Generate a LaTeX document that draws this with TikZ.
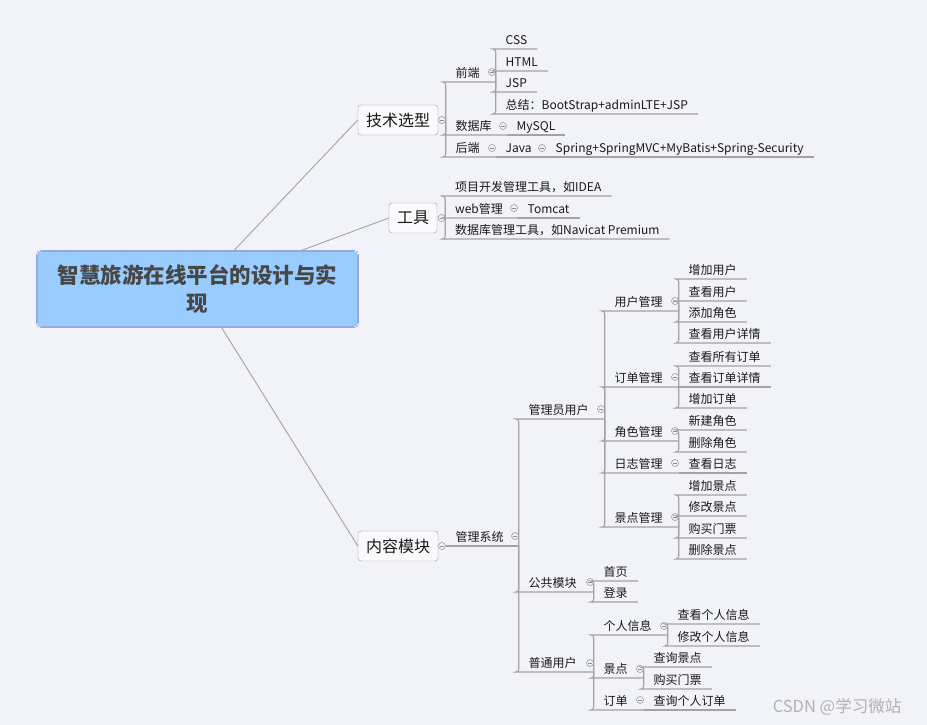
\documentclass[tikz,border=0pt]{standalone}
\usepackage{fontspec}
\setmainfont{Noto Sans CJK SC}
\usepackage{xcolor}
\usepackage{tikz}
\usetikzlibrary{positioning}

\definecolor{bg}{RGB}{242,243,248}
\definecolor{linegray}{RGB}{163,163,163}
\definecolor{rootfill}{RGB}{153,204,255}
\definecolor{rootline}{RGB}{92,124,200}
\definecolor{ink}{RGB}{25,25,25}

\begin{document}
\begin{tikzpicture}[
  x=1pt, y=-1pt,
  rootbox/.style={draw=rootline, double=white, double distance=0.8pt, rounded corners=4pt, fill=rootfill, align=center, minimum width=321pt, minimum height=76pt, font=\fontsize{21.5}{28}\selectfont\bfseries, text=black!72},
  topic/.style={draw=black!40, fill=white!60!bg, rounded corners=3pt, minimum height=30pt, inner xsep=8pt, font=\fontsize{16}{18}\selectfont, text=ink},
  item/.style={anchor=south west, inner xsep=10pt, inner ysep=0pt, minimum height=19pt, text height=11pt, text depth=1pt, font=\fontsize{12}{14}\selectfont, text=ink},
  dot/.style={circle, draw=black!45, fill=bg, inner sep=0pt, minimum size=7pt, line width=0.5pt,
    path picture={\draw[black!45, line width=0.5pt] ([xshift=-1.8pt]path picture bounding box.center) -- ([xshift=1.8pt]path picture bounding box.center);}},
  link/.style={draw=linegray, line width=0.9pt},
  ul/.style={draw=linegray, line width=1.1pt, rounded corners=3pt}
]
  \path[use as bounding box, fill=bg] (0,0) rectangle (927,725);

  % root and main topics
  \node[rootbox] (root) at (197.5,289) {智慧旅游在线平台的设计与实\\现};
  \node[topic] (tech) at (398,120) {技术选型};
  \node[topic] (tools) at (413,218) {工具};
  \node[topic] (cont) at (398,546) {内容模块};
  \node[dot] (tech-c) at (442,120) {};
  \node[dot] (tools-c) at (441.5,218) {};
  \node[dot] (cont-c) at (442,546) {};

  \draw[link] (root) -- (tech.west);
  \draw[link] (root) -- (tools.west);
  \draw[link] (root) -- (cont.west);

  % 技术选型
  \node[item] (fe) at (445.5,82) {前端};
  \node[dot] (fe-c) at (492,72) {};
  \node[item] (css) at (495.5,49) {CSS};
  \node[item] (html) at (495.5,71) {HTML};
  \node[item] (jsp) at (495.5,92) {JSP};
  \node[item] (sum) at (495.5,114) {总结：BootStrap+adminLTE+JSP};
  \node[item] (db) at (445.5,135) {数据库};
  \node[dot] (db-c) at (503,126) {};
  \node[item] (mysql) at (506.5,135) {MySQL};
  \node[item] (be) at (445.5,157) {后端};
  \node[dot] (be-c) at (492,148) {};
  \node[item] (java) at (495.5,157) {Java};
  \node[dot] (java-c) at (542,148) {};
  \node[item] (spring) at (545.5,157) {Spring+SpringMVC+MyBatis+Spring-Security};

  \draw[ul] (tech-c.east) |- (fe.south west) -- (fe-c.east |- fe.south);
  \draw[ul] (tech-c.east) |- (db.south west) -- (db-c.east |- db.south);
  \draw[ul] (tech-c.east) |- (be.south west) -- (be-c.east |- be.south);
  \draw[ul] (fe-c.east |- fe.south) |- (css.south west) -- (css.south east);
  \draw[ul] (fe-c.east |- fe.south) |- (html.south west) -- (html.south east);
  \draw[ul] (fe-c.east |- fe.south) |- (jsp.south west) -- (jsp.south east);
  \draw[ul] (fe-c.east |- fe.south) |- (sum.south west) -- (sum.south east);
  \draw[ul] (mysql.south west) -- (mysql.south east);
  \draw[ul] (java.south west) -- (java-c.east |- java.south);
  \draw[ul] (spring.south west) -- (spring.south east);

  % 工具
  \node[item] (ide) at (445,196) {项目开发管理工具，如IDEA};
  \node[item] (web) at (445,218) {web管理};
  \node[dot] (web-c) at (514,208) {};
  \node[item] (tomcat) at (517.5,218) {Tomcat};
  \node[item] (navi) at (445,239) {数据库管理工具，如Navicat Premium};

  \draw[ul] (tools-c.east) |- (ide.south west) -- (ide.south east);
  \draw[ul] (tools-c.east) |- (web.south west) -- (web-c.east |- web.south);
  \draw[ul] (tools-c.east) |- (navi.south west) -- (navi.south east);
  \draw[ul] (tomcat.south west) -- (tomcat.south east);

  % 内容模块
  \node[item] (sys) at (445.5,546) {管理系统};
  \node[dot] (sys-c) at (515,536) {};
  \draw[ul] (cont-c.east) -- (sys.south west) -- (sys-c.east |- sys.south);

  \node[item] (adm) at (518.5,419) {管理员用户};
  \node[dot] (adm-c) at (601,409) {};
  \node[item] (pub) at (518.5,592) {公共模块};
  \node[dot] (pub-c) at (590,582) {};
  \node[item] (usr) at (518.5,672) {普通用户};
  \node[dot] (usr-c) at (590,663) {};
  \draw[ul] (sys-c.east |- sys.south) |- (adm.south west) -- (adm-c.east |- adm.south);
  \draw[ul] (sys-c.east |- sys.south) |- (pub.south west) -- (pub-c.east |- pub.south);
  \draw[ul] (sys-c.east |- sys.south) |- (usr.south west) -- (usr-c.east |- usr.south);

  % 管理员用户
  \node[item] (um) at (604.5,311) {用户管理};
  \node[dot] (um-c) at (675,301) {};
  \node[item] (om) at (604.5,387) {订单管理};
  \node[dot] (om-c) at (675,377) {};
  \node[item] (rm) at (604.5,441) {角色管理};
  \node[dot] (rm-c) at (675,431) {};
  \node[item] (lm) at (604.5,473) {日志管理};
  \node[dot] (lm-c) at (675,463) {};
  \node[item] (sm) at (604.5,527) {景点管理};
  \node[dot] (sm-c) at (675,517) {};
  \draw[ul] (adm-c.east |- adm.south) |- (um.south west) -- (um-c.east |- um.south);
  \draw[ul] (adm-c.east |- adm.south) |- (om.south west) -- (om-c.east |- om.south);
  \draw[ul] (adm-c.east |- adm.south) |- (rm.south west) -- (rm-c.east |- rm.south);
  \draw[ul] (adm-c.east |- adm.south) |- (lm.south west) -- (lm-c.east |- lm.south);
  \draw[ul] (adm-c.east |- adm.south) |- (sm.south west) -- (sm-c.east |- sm.south);

  \node[item] (u1) at (678.5,279) {增加用户};
  \node[item] (u2) at (678.5,301) {查看用户};
  \node[item] (u3) at (678.5,322) {添加角色};
  \node[item] (u4) at (678.5,343) {查看用户详情};
  \draw[ul] (um-c.east |- um.south) |- (u1.south west) -- (u1.south east);
  \draw[ul] (um-c.east |- um.south) |- (u2.south west) -- (u2.south east);
  \draw[ul] (um-c.east |- um.south) |- (u3.south west) -- (u3.south east);
  \draw[ul] (um-c.east |- um.south) |- (u4.south west) -- (u4.south east);

  \node[item] (o1) at (678.5,366) {查看所有订单};
  \node[item] (o2) at (678.5,387) {查看订单详情};
  \node[item] (o3) at (678.5,408) {增加订单};
  \draw[ul] (om-c.east |- om.south) |- (o1.south west) -- (o1.south east);
  \draw[ul] (om-c.east |- om.south) -- (o2.south west) -- (o2.south east);
  \draw[ul] (om-c.east |- om.south) |- (o3.south west) -- (o3.south east);

  \node[item] (r1) at (678.5,430) {新建角色};
  \node[item] (r2) at (678.5,452) {删除角色};
  \draw[ul] (rm-c.east |- rm.south) |- (r1.south west) -- (r1.south east);
  \draw[ul] (rm-c.east |- rm.south) |- (r2.south west) -- (r2.south east);

  \node[item] (l1) at (678.5,473) {查看日志};
  \draw[ul] (l1.south west) -- (l1.south east);

  \node[item] (s1) at (678.5,495) {增加景点};
  \node[item] (s2) at (678.5,516) {修改景点};
  \node[item] (s3) at (678.5,538) {购买门票};
  \node[item] (s4) at (678.5,559) {删除景点};
  \draw[ul] (sm-c.east |- sm.south) |- (s1.south west) -- (s1.south east);
  \draw[ul] (sm-c.east |- sm.south) |- (s2.south west) -- (s2.south east);
  \draw[ul] (sm-c.east |- sm.south) |- (s3.south west) -- (s3.south east);
  \draw[ul] (sm-c.east |- sm.south) |- (s4.south west) -- (s4.south east);

  % 公共模块
  \node[item] (p1) at (593.5,581) {首页};
  \node[item] (p2) at (593.5,602) {登录};
  \draw[ul] (pub-c.east |- pub.south) |- (p1.south west) -- (p1.south east);
  \draw[ul] (pub-c.east |- pub.south) |- (p2.south west) -- (p2.south east);

  % 普通用户
  \node[item] (pi) at (593.5,635) {个人信息};
  \node[dot] (pi-c) at (664,626) {};
  \node[item] (ps) at (593.5,678) {景点};
  \node[dot] (ps-c) at (640,669) {};
  \node[item] (po) at (593.5,710) {订单};
  \node[dot] (po-c) at (640,700) {};
  \draw[ul] (usr-c.east |- usr.south) |- (pi.south west) -- (pi-c.east |- pi.south);
  \draw[ul] (usr-c.east |- usr.south) |- (ps.south west) -- (ps-c.east |- ps.south);
  \draw[ul] (usr-c.east |- usr.south) |- (po.south west) -- (po-c.east |- po.south);

  \node[item] (i1) at (667.5,624) {查看个人信息};
  \node[item] (i2) at (667.5,646) {修改个人信息};
  \draw[ul] (pi-c.east |- pi.south) |- (i1.south west) -- (i1.south east);
  \draw[ul] (pi-c.east |- pi.south) |- (i2.south west) -- (i2.south east);

  \node[item] (q1) at (643.5,667) {查询景点};
  \node[item] (q2) at (643.5,689) {购买门票};
  \node[item] (q3) at (643.5,710) {查询个人订单};
  \draw[ul] (ps-c.east |- ps.south) |- (q1.south west) -- (q1.south east);
  \draw[ul] (ps-c.east |- ps.south) |- (q2.south west) -- (q2.south east);
  \draw[ul] (q3.south west) -- (q3.south east);

  \node[font=\fontsize{16.5}{18}\selectfont, text=black!30] (wm) at (837,707) {CSDN @学习微站};
\end{tikzpicture}
\end{document}
